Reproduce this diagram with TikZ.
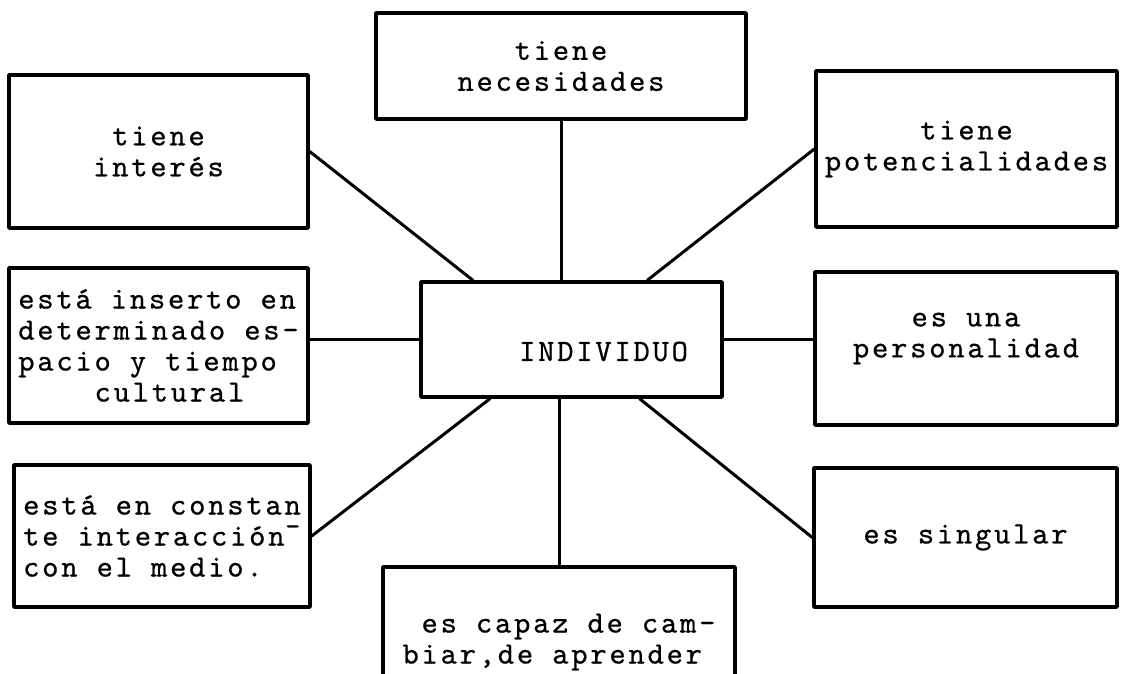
\documentclass[tikz,border=0pt]{standalone}
\usepackage{fontspec}
\usepackage{tikz}
\newfontfamily\typewriter{lmmono10-regular.otf}[LetterSpace=9,FakeBold=0.6]

\begin{document}
\begin{tikzpicture}[line cap=round,line join=round,x=1pt,y=-1pt,
  box/.style={draw=black,line width=3.5pt,inner sep=0pt,align=center},
  link/.style={line width=3pt,color=black},
  font=\fontsize{31}{31}\selectfont\typewriter]
\useasboundingbox (0,0) rectangle (1121,673);
\clip (0,0) rectangle (1121,673);
\fill[white] (0,0) rectangle (1121,673);
\node[box,minimum width=370,minimum height=106] (necesidades) at (561,66) {tiene\\necesidades};
\node[box,minimum width=299,minimum height=153] (interes) at (158.5,151.5) {tiene\\interés};
\node[box,minimum width=301,minimum height=156] (potencial) at (966.5,149) {tiene\\potencialidades};
\node[box,minimum width=299,minimum height=155,align=left] (inserto) at (158.5,345.5) {está inserto en\\determinado es-\\pacio y tiempo\\\ \ \ \ cultural};
\node[box,minimum width=301,minimum height=115,label={[xshift=32pt,yshift=-12pt]center:INDIVIDUO}] (indiv) at (571.5,339.5) {};
\node[box,minimum width=302,minimum height=153,label={[yshift=10pt,align=center]center:es una\\personalidad}] (personal) at (966,348.5) {};
\node[box,minimum width=296,minimum height=142,align=left] (medio) at (162,536) {está en constan\\te interacción\raisebox{2pt}{¯}\\con el medio.};
\node[box,minimum width=303,minimum height=139] (singular) at (965.5,537.5) {es singular};
\node[box,minimum width=352,minimum height=150,align=left] (cambiar) at (559,642) {\ es capaz de cam-\\biar,de aprender};
\draw[link] (necesidades.south) -- (necesidades.south |- indiv.north);
\draw[link] (interes.east) -- (indiv.149);
\draw[link] (potencial.west) -- (indiv.38);
\draw[link] (inserto.east |- indiv.west) -- (indiv.west);
\draw[link] (indiv.east) -- (indiv.east -| personal.west);
\draw[link] (medio.east) -- (indiv.216);
\draw[link] (singular.west) -- (indiv.319);
\draw[link] (cambiar.north) -- (cambiar.north |- indiv.south);
\end{tikzpicture}
\end{document}
